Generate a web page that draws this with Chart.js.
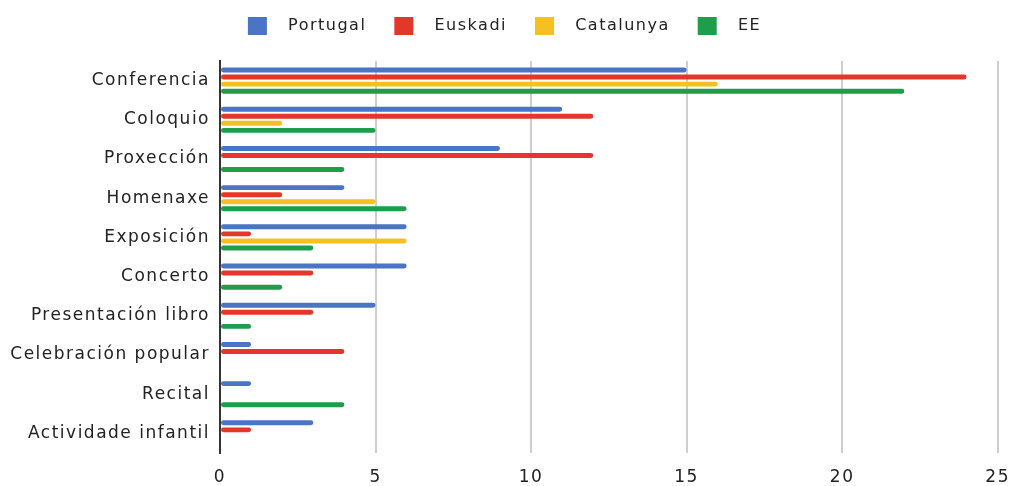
<!DOCTYPE html>
<html>
<head>
<meta charset="utf-8">
<script src="https://cdn.jsdelivr.net/npm/chart.js@4"></script>
<style>
  html, body { margin: 0; padding: 0; background: #fff; }
  #wrap { width: 1024px; height: 486px; }
</style>
</head>
<body>
<div id="wrap"><canvas id="eventsChart"></canvas></div>
<script>
// Data
const categories = ['Conferencia', 'Coloquio', 'Proxección', 'Homenaxe', 'Exposición', 'Concerto',
    'Presentación libro', 'Celebración popular', 'Recital', 'Actividade infantil'];
const portugal  = [15, 11, 9, 4, 6, 6, 5, 1, 1, 3];
const euskadi   = [24, 12, 12, 2, 1, 3, 3, 4, 0, 1];
const catalunya = [16, 2, 0, 5, 6, 0, 0, 0, 0, 0];
const ee        = [22, 5, 4, 6, 3, 2, 1, 0, 4, 0];
const xTicks = [0, 5, 10, 15, 20, 25];

const fontFamily = '"DejaVu Sans", Verdana, sans-serif';
const spacing = '1.5px';

// letter spacing so text matches the wide look of the original
const letterSpacing = {
    id: 'letterSpacing',
    beforeUpdate(chart) { chart.ctx.letterSpacing = spacing; },
    beforeDraw(chart) { chart.ctx.letterSpacing = spacing; }
};

// a bit of room between legend and plot
const legendMargin = {
    id: 'legendMargin',
    beforeInit(chart) {
        const fit = chart.legend.fit;
        chart.legend.fit = function () {
            fit.bind(chart.legend)();
            this.height += 16;
        };
    }
};

const makeSet = (label, data, color) => ({
    label, data,
    backgroundColor: color,
    borderRadius: 3,
    borderSkipped: false,
    categoryPercentage: 0.72,
    barPercentage: 0.7
});

new Chart(document.getElementById('eventsChart'), {
    type: 'bar',
    data: {
        labels: categories,
        datasets: [
            makeSet('Portugal', portugal, '#4a74c4'),
            makeSet('Euskadi', euskadi, '#e3372b'),
            makeSet('Catalunya', catalunya, '#f6bf22'),
            makeSet('EE', ee, '#1e9d4a')
        ]
    },
    options: {
        indexAxis: 'y',
        responsive: true,
        maintainAspectRatio: false,
        animation: false,
        layout: { padding: { top: -11, right: 15, bottom: 0, left: 0 } },
        plugins: {
            tooltip: { enabled: false },
            legend: {
                position: 'top',
                labels: {
                    boxWidth: 19,
                    boxHeight: 18,
                    padding: 28,
                    color: '#222',
                    font: { family: fontFamily, size: 16 },
                    generateLabels(chart) {
                        const items = Chart.defaults.plugins.legend.labels.generateLabels(chart);
                        items.forEach(it => { it.text = '  ' + it.text; });
                        return items;
                    }
                }
            }
        },
        scales: {
            x: {
                min: 0,
                max: 25,
                afterBuildTicks(scale) { scale.ticks = xTicks.map(v => ({ value: v })); },
                afterFit(scale) { scale.height = 33; },
                grid: { color: '#cfcfcf', lineWidth: 2, drawTicks: false },
                border: { display: false },
                ticks: {
                    padding: 14,
                    color: '#222',
                    font: { family: fontFamily, size: 17 }
                }
            },
            y: {
                afterFit(scale) { scale.width = 220; },
                grid: { display: false, drawTicks: false },
                border: { display: true, color: '#333', width: 2 },
                ticks: {
                    padding: 10,
                    color: '#222',
                    font: { family: fontFamily, size: 17 }
                }
            }
        }
    },
    plugins: [letterSpacing, legendMargin]
});
</script>
</body>
</html>
